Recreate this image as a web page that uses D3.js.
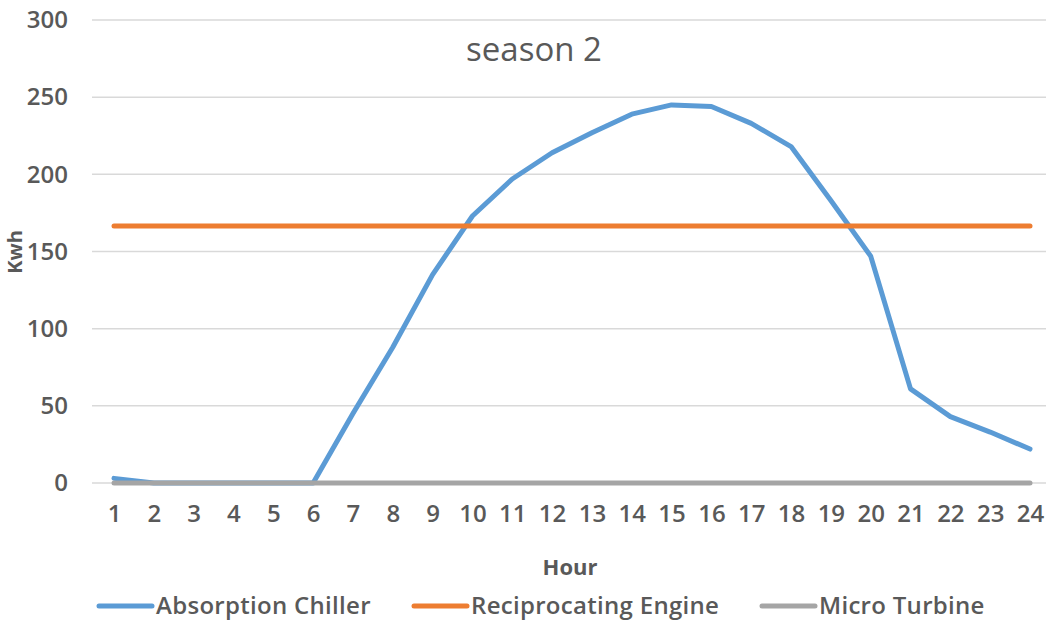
<!DOCTYPE html>
<html>
<head>
<meta charset="utf-8">
<script src="https://cdn.jsdelivr.net/npm/d3@7"></script>
<style>
  body { margin: 0; background: #fff; }
  svg text { font-family: "Open Sans", sans-serif; fill: #595959; }
</style>
</head>
<body>
<div id="chart"></div>
<script>
const hours = d3.range(1, 25);
const absorptionChiller = [3, 0, 0, 0, 0, 0, 45, 88, 135, 173, 197, 214, 227, 239, 245, 244, 233, 218, 183, 147, 61, 43, 33, 22];
const reciprocatingEngine = hours.map(() => 166.5);
const microTurbine = hours.map(() => 0);
const yTicks = [0, 50, 100, 150, 200, 250, 300];

const seriesNames = ["Absorption Chiller", "Reciprocating Engine", "Micro Turbine"];
const seriesColors = ["#5B9BD5", "#ED7D31", "#A5A5A5"];
const seriesValues = [absorptionChiller, reciprocatingEngine, microTurbine];

const width = 1046, height = 622;

const svg = d3.select("#chart").append("svg")
  .attr("width", width)
  .attr("height", height);

const x = d3.scalePoint().domain(hours).range([114, 1030]);
const y = d3.scaleLinear().domain([0, 300]).range([483, 20]);

// gridlines
svg.append("g")
  .selectAll("line")
  .data(yTicks)
  .join("line")
  .attr("x1", 92).attr("x2", 1046)
  .attr("y1", d => y(d)).attr("y2", d => y(d))
  .attr("stroke", "#D9D9D9")
  .attr("stroke-width", 1.5);

// y axis labels
const yAxis = svg.append("g")
  .attr("transform", "translate(80,0)")
  .call(d3.axisLeft(y).tickValues(yTicks).tickSize(0).tickPadding(12));
yAxis.select(".domain").remove();
yAxis.selectAll("text")
  .attr("font-family", "Open Sans, sans-serif")
  .attr("font-size", 24)
  .attr("font-weight", 600)
  .attr("fill", "#595959");

// x axis labels
const xAxis = svg.append("g")
  .attr("transform", "translate(0,505)")
  .call(d3.axisBottom(x).tickSize(0).tickPadding(0));
xAxis.select(".domain").remove();
xAxis.selectAll("text")
  .attr("font-family", "Open Sans, sans-serif")
  .attr("font-size", 24)
  .attr("font-weight", 600)
  .attr("fill", "#595959");

// series lines
const line = d3.line()
  .x((d, i) => x(hours[i]))
  .y(d => y(d));

seriesValues.forEach((vals, i) => {
  svg.append("path")
    .datum(vals)
    .attr("d", line)
    .attr("fill", "none")
    .attr("stroke", seriesColors[i])
    .attr("stroke-width", 5)
    .attr("stroke-linejoin", "round")
    .attr("stroke-linecap", "round");
});

// title
svg.append("text")
  .attr("x", 534).attr("y", 61)
  .attr("text-anchor", "middle")
  .attr("font-size", 33)
  .text("season 2");

// axis titles
svg.append("text")
  .attr("x", 570).attr("y", 575)
  .attr("text-anchor", "middle")
  .attr("font-size", 22)
  .attr("font-weight", 700)
  .text("Hour");

svg.append("text")
  .attr("transform", "translate(22,252) rotate(-90)")
  .attr("text-anchor", "middle")
  .attr("font-size", 20)
  .attr("font-weight", 700)
  .text("Kwh");

// legend
const legendX = [97, 412, 760];
const legend = svg.append("g")
  .selectAll("g")
  .data(seriesNames)
  .join("g")
  .attr("transform", (d, i) => `translate(${legendX[i]},606)`);

legend.append("line")
  .attr("x1", 2).attr("x2", 55)
  .attr("stroke", (d, i) => seriesColors[i])
  .attr("stroke-width", 5)
  .attr("stroke-linecap", "round");

legend.append("text")
  .attr("x", 59).attr("y", 8)
  .attr("font-size", 24)
  .attr("font-weight", 600)
  .attr("letter-spacing", 0.3)
  .text(d => d);
</script>
</body>
</html>
